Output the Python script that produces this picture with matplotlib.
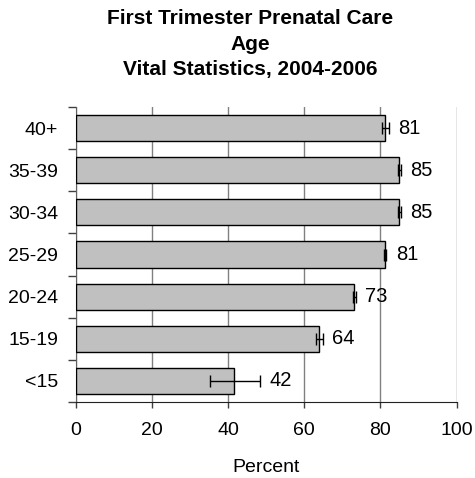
#!/usr/bin/env python3
"""
First trimester prenatal care by age - horizontal bar chart with error bars.
"""

import matplotlib
matplotlib.use('Agg')
import matplotlib.pyplot as plt
import numpy as np

plt.rcParams['font.family'] = ['Liberation Sans', 'DejaVu Sans']

# data (bottom to top)
age_groups = ['<15', '15-19', '20-24', '25-29', '30-34', '35-39', '40+']
percent = [41.6, 63.9, 73.1, 81.2, 84.9, 84.9, 81.1]
ci_low = [35.1, 63.2, 72.8, 80.9, 84.5, 84.5, 80.3]
ci_high = [48.3, 64.8, 73.5, 81.5, 85.3, 85.3, 82.2]
labels = ['42', '64', '73', '81', '85', '85', '81']

fig = plt.figure(figsize=(4.75, 4.78), dpi=100)
ax = fig.add_axes([76 / 475, 1 - 402 / 478, 380.5 / 475, 295 / 478])

y = np.arange(len(age_groups))
vals = np.array(percent)
err = [vals - np.array(ci_low), np.array(ci_high) - vals]

ax.barh(y, vals, height=0.62, color='#c0c0c0', edgecolor='black',
        linewidth=1.0, zorder=3)
ax.errorbar(vals, y, xerr=err, fmt='none', ecolor='black', elinewidth=1.0,
            capsize=4, capthick=1.0, zorder=4)

# value labels to the right of the error bar
for yi, hi, lab in zip(y, ci_high, labels):
    ax.annotate(lab, (hi, yi), xytext=(7, 0), textcoords='offset points',
                ha='left', va='center', fontsize=14.5)

ax.set_xlim(0, 100)
ax.set_ylim(-0.5, len(age_groups) - 0.5)
ax.set_xticks([0, 20, 40, 60, 80, 100])
ax.tick_params(axis='x', labelsize=14, length=4.5, width=1.0, pad=10,
               direction='out', color='#404040')
ax.set_yticks(y)
ax.set_yticklabels(age_groups)
ax.set_yticks(np.arange(len(age_groups) + 1) - 0.5, minor=True)
ax.tick_params(axis='y', which='major', length=0, labelsize=14, pad=13)
ax.tick_params(axis='y', which='minor', length=5.5, width=1.0,
               direction='out', color='#404040')

ax.xaxis.grid(True, color='#808080', linewidth=1.0, zorder=0)
ax.set_axisbelow(True)
for side in ['top', 'right']:
    ax.spines[side].set_visible(False)
ax.spines['left'].set_color('#606060')
ax.spines['bottom'].set_color('#202020')

ax.set_xlabel('Percent', fontsize=14, labelpad=14)

title_lines = ['First Trimester Prenatal Care', 'Age',
               'Vital Statistics, 2004-2006']
for i, line in enumerate(title_lines):
    fig.text(0.527, 1 - (18 + 26 * i) / 478, line, ha='center', va='center',
             fontsize=15, weight='bold')

plt.savefig('out.png', dpi=100)
plt.close()
